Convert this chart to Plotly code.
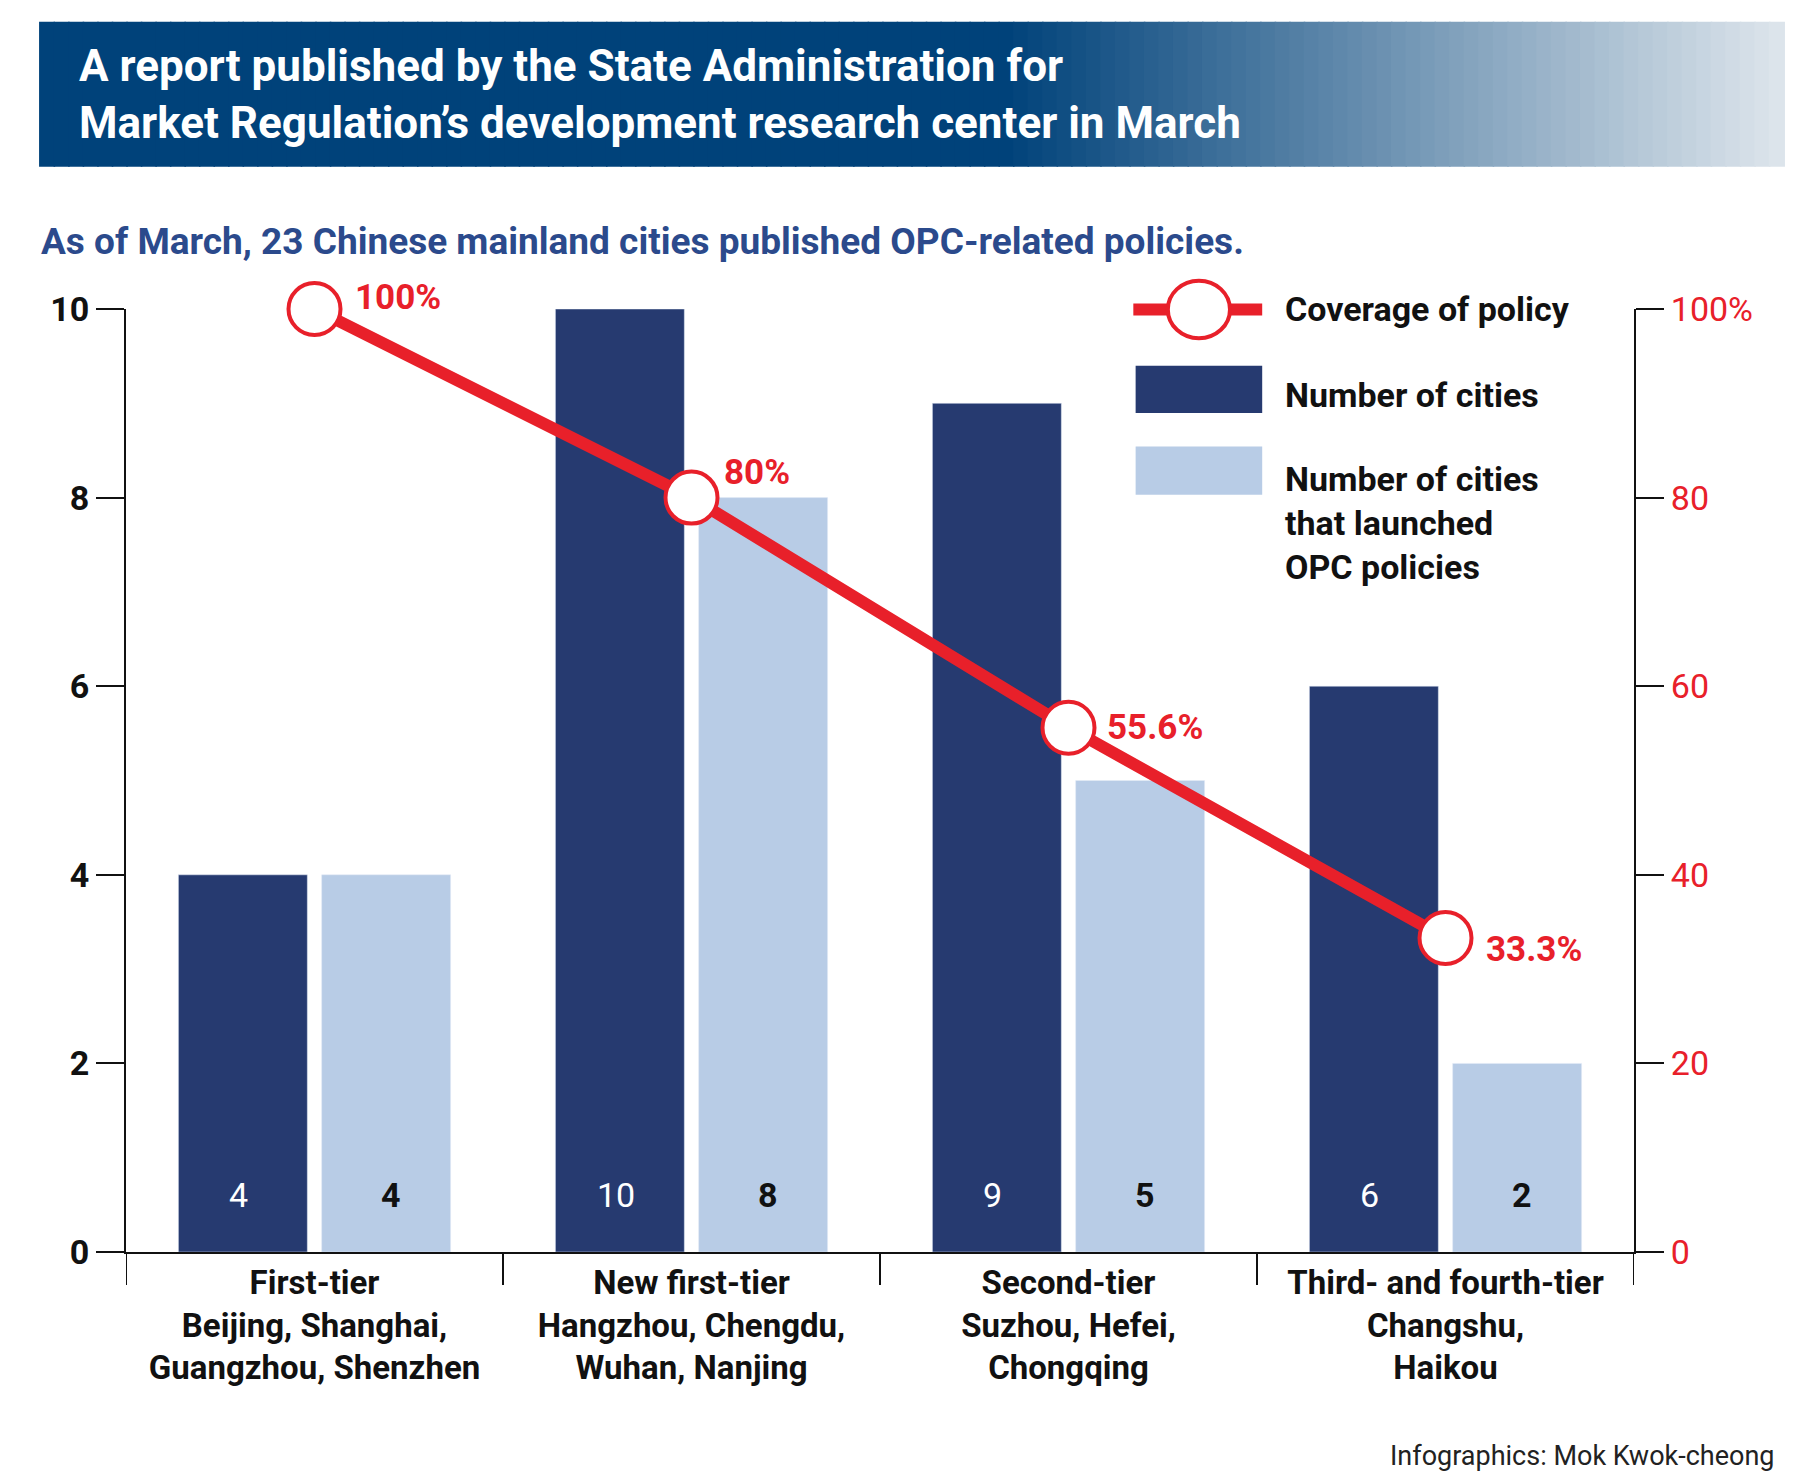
import plotly.graph_objects as go

categories = ["First-tier", "New first-tier", "Second-tier", "Third- and fourth-tier"]
cat_labels = [
    "First-tier<br>Beijing, Shanghai,<br>Guangzhou, Shenzhen",
    "New first-tier<br>Hangzhou, Chengdu,<br>Wuhan, Nanjing",
    "Second-tier<br>Suzhou, Hefei,<br>Chongqing",
    "Third- and fourth-tier<br>Changshu,<br>Haikou",
]
num_cities = [4, 10, 9, 6]
num_launched = [4, 8, 5, 2]
coverage = [100, 80, 55.6, 33.3]
coverage_text = ["100%", "80%", "55.6%", "33.3%"]

NAVY = "#263a70"
LIGHT = "#b8cce6"
RED = "#e8202a"
FONT = "Roboto"

W, H = 1795, 1471
s = W / 1560
L, R, T, B = 118, 169, 301, 227
PW, PH = W - L - R, H - T - B


def px(x):
    return (x * s - L) / PW


def py(y):
    return 1 - (y * s - T) / PH


idx = list(range(len(categories)))

fig = go.Figure()
fig.add_bar(x=idx, y=num_cities, marker_color=NAVY, name="Number of cities")
fig.add_bar(x=idx, y=num_launched, marker_color=LIGHT, name="launched")
fig.add_scatter(x=idx, y=coverage, yaxis="y2", mode="lines+markers",
                line=dict(color=RED, width=12),
                marker=dict(size=52, color="white", line=dict(color=RED, width=4)),
                cliponaxis=False)

shapes = []
ann = []
# banner gradient
x0, x1 = 27, 1543
n = 120
for i in range(n):
    a = x0 + (x1 - x0) * i / n
    b = x0 + (x1 - x0) * (i + 1) / n
    t = max(0, (i / n - 0.55) / 0.45)
    c0 = (0, 66, 122)
    c1 = (225, 232, 238)
    col = "rgb(%d,%d,%d)" % tuple(int(c0[k] + (c1[k] - c0[k]) * t) for k in range(3))
    shapes.append(dict(type="rect", xref="paper", yref="paper", x0=px(a), x1=px(b) + 0.001,
                       y0=py(138), y1=py(12), fillcolor=col, line_width=0, layer="below"))
ann.append(dict(xref="paper", yref="paper", x=px(60), y=py(75), xanchor="left", yanchor="middle",
                align="left", showarrow=False,
                text="A report published by the State Administration for<br>Market Regulation’s development research center in March",
                font=dict(color="white", size=44, family=FONT, weight="bold")))
ann.append(dict(xref="paper", yref="paper", x=px(27), y=py(203), xanchor="left", yanchor="middle",
                showarrow=False, text="As of March, 23 Chinese mainland cities published OPC-related policies.",
                font=dict(color="#2b4a8c", size=37, family=FONT, weight="bold")))
ann.append(dict(xref="paper", yref="paper", x=px(1537), y=py(1258), xanchor="right", yanchor="middle",
                showarrow=False, text="Infographics: Mok Kwok-cheong",
                font=dict(color="#222", size=27, family=FONT)))
# coverage labels
offs = [(38, 12), (30, 25), (36, 0), (38, -12)]
for i in idx:
    ann.append(dict(x=i, y=coverage[i], xref="x", yref="y2", xanchor="left", yanchor="middle",
                    xshift=offs[i][0], yshift=offs[i][1], showarrow=False, text=coverage_text[i],
                    font=dict(color=RED, size=35, family=FONT, weight="bold")))
# bar value labels
for i in idx:
    ann.append(dict(x=i, y=0.6, xref="x", yref="y", xshift=-76, showarrow=False,
                    text=str(num_cities[i]), font=dict(color="white", size=34, family=FONT)))
    ann.append(dict(x=i, y=0.6, xref="x", yref="y", xshift=76, showarrow=False,
                    text=str(num_launched[i]), font=dict(color="#111", size=34, family=FONT, weight="bold")))
# category separators
for b in [-0.5, 0.5, 1.5, 2.5, 3.5]:
    shapes.append(dict(type="line", xref="x", yref="paper", x0=b, x1=b, y0=0, y1=-0.035,
                       line=dict(color="#111", width=2)))
# legend
shapes.append(dict(type="line", xref="paper", yref="paper", x0=px(978), x1=px(1090), y0=py(262), y1=py(262),
                   line=dict(color=RED, width=12)))
shapes.append(dict(type="circle", xref="paper", yref="paper", x0=px(1008), x1=px(1062), y0=py(287), y1=py(237),
                   fillcolor="white", line=dict(color=RED, width=4)))
shapes.append(dict(type="rect", xref="paper", yref="paper", x0=px(980), x1=px(1090), y0=py(352), y1=py(311),
                   fillcolor=NAVY, line_width=0))
shapes.append(dict(type="rect", xref="paper", yref="paper", x0=px(980), x1=px(1090), y0=py(423), y1=py(381),
                   fillcolor=LIGHT, line_width=0))
for y, t in [(262, "Coverage of policy"), (336, "Number of cities"),
             (448, "Number of cities<br>that launched<br>OPC policies")]:
    ann.append(dict(xref="paper", yref="paper", x=px(1108), y=py(y), xanchor="left", yanchor="middle",
                    align="left", showarrow=False, text=t,
                    font=dict(color="#111", size=34, family=FONT, weight="bold")))

fig.update_layout(
    width=W, height=H, margin=dict(l=L, r=R, t=T, b=B),
    paper_bgcolor="white", plot_bgcolor="white", showlegend=False,
    barmode="group", bargap=0.24, bargroupgap=0.1,
    shapes=shapes, annotations=ann,
    font=dict(family=FONT, color="#111"),
    xaxis=dict(range=[-0.5, 3.5], tickvals=idx, ticktext=cat_labels, ticks="",
               showline=True, linecolor="#111", linewidth=2, showgrid=False,
               tickfont=dict(size=33, family=FONT, weight="bold")),
    yaxis=dict(range=[0, 10], dtick=2, ticks="outside", ticklen=28, tickwidth=2, tickcolor="#111",
               showline=True, linecolor="#111", linewidth=2, showgrid=False, zeroline=False,
               tickfont=dict(size=34, family=FONT, weight="bold")),
    yaxis2=dict(range=[0, 100], overlaying="y", side="right", tickvals=[0, 20, 40, 60, 80, 100],
                ticktext=["0", "20", "40", "60", "80", "100%"], ticks="outside", ticklen=28,
                tickwidth=2, tickcolor="#111", showline=True, linecolor="#111", linewidth=2,
                showgrid=False, zeroline=False, tickfont=dict(size=34, family=FONT, color=RED)),
)

fig.write_html("out.html")
